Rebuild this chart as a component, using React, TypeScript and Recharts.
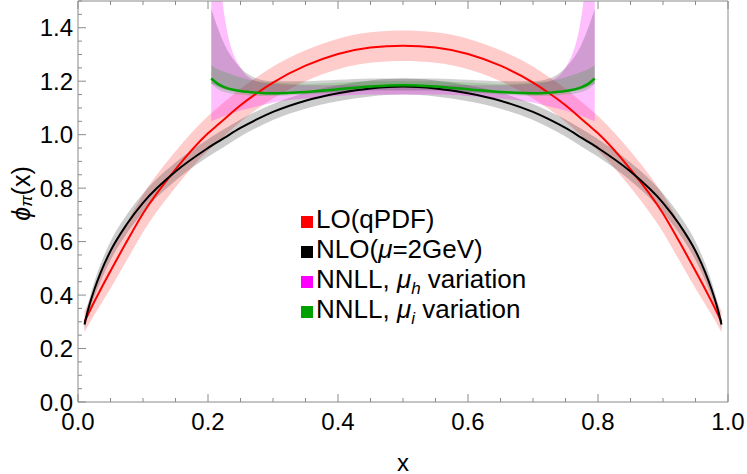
import { Area, ComposedChart, Label, Line, XAxis, YAxis } from "recharts";

const FONT = "'Liberation Sans', Arial, sans-serif";
const FRAME = "#8a8a8a";

// x grid for the full-range curves
const xs = [0.01, 0.015, 0.025, 0.035, 0.05, 0.075, 0.1, 0.15, 0.2, 0.205, 0.215, 0.225, 0.25, 0.275, 0.3, 0.35, 0.4, 0.45, 0.5, 0.55, 0.6, 0.65, 0.7, 0.725, 0.75, 0.775, 0.785, 0.795, 0.8, 0.85, 0.9, 0.925, 0.95, 0.965, 0.975, 0.985, 0.99];

// LO(qPDF)
const lo = [0.3, 0.325, 0.375, 0.422, 0.49, 0.6, 0.705, 0.87, 1.005, 1.016, 1.037, 1.058, 1.11, 1.155, 1.195, 1.258, 1.302, 1.326, 1.333, 1.326, 1.302, 1.258, 1.195, 1.155, 1.11, 1.058, 1.037, 1.016, 1.005, 0.87, 0.705, 0.6, 0.49, 0.422, 0.375, 0.325, 0.3];
const loLow = [0.26, 0.283, 0.325, 0.365, 0.425, 0.53, 0.635, 0.802, 0.94, 0.951, 0.972, 0.994, 1.048, 1.095, 1.135, 1.2, 1.245, 1.269, 1.276, 1.269, 1.245, 1.2, 1.135, 1.095, 1.048, 0.994, 0.972, 0.951, 0.94, 0.802, 0.635, 0.53, 0.425, 0.365, 0.325, 0.283, 0.26];
const loHigh = [0.34, 0.367, 0.425, 0.479, 0.555, 0.67, 0.775, 0.938, 1.07, 1.081, 1.102, 1.122, 1.172, 1.215, 1.255, 1.316, 1.359, 1.383, 1.39, 1.383, 1.359, 1.316, 1.255, 1.215, 1.172, 1.122, 1.102, 1.081, 1.07, 0.938, 0.775, 0.67, 0.555, 0.479, 0.425, 0.367, 0.34];

// NLO(mu=2GeV)
const nlo = [0.29, 0.34, 0.42, 0.485, 0.565, 0.665, 0.745, 0.862, 0.95, 0.958, 0.973, 0.988, 1.025, 1.057, 1.085, 1.127, 1.155, 1.173, 1.18, 1.173, 1.155, 1.127, 1.085, 1.057, 1.025, 0.988, 0.973, 0.958, 0.95, 0.862, 0.745, 0.665, 0.565, 0.485, 0.42, 0.34, 0.29];
const nloLow = [0.27, 0.318, 0.392, 0.453, 0.53, 0.63, 0.71, 0.828, 0.917, 0.925, 0.94, 0.955, 0.993, 1.026, 1.055, 1.097, 1.125, 1.143, 1.15, 1.143, 1.125, 1.097, 1.055, 1.026, 0.993, 0.955, 0.94, 0.925, 0.917, 0.828, 0.71, 0.63, 0.53, 0.453, 0.392, 0.318, 0.27];
const nloHigh = [0.31, 0.362, 0.448, 0.517, 0.6, 0.7, 0.78, 0.896, 0.983, 0.991, 1.006, 1.021, 1.057, 1.088, 1.115, 1.157, 1.185, 1.203, 1.21, 1.203, 1.185, 1.157, 1.115, 1.088, 1.057, 1.021, 1.006, 0.991, 0.983, 0.896, 0.78, 0.7, 0.6, 0.517, 0.448, 0.362, 0.31];

// NNLL curves only live on 0.2 < x < 0.8
const nnllXs = [0.205, 0.215, 0.225, 0.25, 0.275, 0.3, 0.35, 0.4, 0.45, 0.5, 0.55, 0.6, 0.65, 0.7, 0.725, 0.75, 0.775, 0.785, 0.795];
const muI = [1.21, 1.19, 1.178, 1.163, 1.157, 1.155, 1.16, 1.17, 1.18, 1.185, 1.18, 1.17, 1.16, 1.155, 1.157, 1.163, 1.178, 1.19, 1.21];
const muILow = [1.19, 1.17, 1.16, 1.15, 1.145, 1.145, 1.15, 1.16, 1.17, 1.175, 1.17, 1.16, 1.15, 1.145, 1.145, 1.15, 1.16, 1.17, 1.19];
const muIHigh = [1.26, 1.245, 1.235, 1.215, 1.2, 1.195, 1.19, 1.195, 1.2, 1.2, 1.2, 1.195, 1.19, 1.195, 1.2, 1.215, 1.235, 1.245, 1.26];
const muHLow = [1.05, 1.06, 1.07, 1.09, 1.105, 1.12, 1.135, 1.145, 1.15, 1.15, 1.15, 1.145, 1.135, 1.12, 1.105, 1.09, 1.07, 1.06, 1.05];
const muHHigh = [2.4, 1.75, 1.45, 1.25, 1.2, 1.19, 1.185, 1.185, 1.185, 1.185, 1.185, 1.185, 1.185, 1.19, 1.2, 1.25, 1.45, 1.75, 2.4];
const combLow = [1.19, 1.18, 1.17, 1.16, 1.155, 1.15, 1.155, 1.16, 1.165, 1.165, 1.165, 1.16, 1.155, 1.15, 1.155, 1.16, 1.17, 1.18, 1.19];
const combHigh = [1.47, 1.4, 1.34, 1.25, 1.21, 1.2, 1.2, 1.205, 1.21, 1.21, 1.21, 1.205, 1.2, 1.2, 1.21, 1.25, 1.34, 1.4, 1.47];

const xTicks = [0, 0.05, 0.1, 0.15, 0.2, 0.25, 0.3, 0.35, 0.4, 0.45, 0.5, 0.55, 0.6, 0.65, 0.7, 0.75, 0.8, 0.85, 0.9, 0.95, 1];
const xMajor = [0, 0.2, 0.4, 0.6, 0.8, 1];
const yTicks = [0, 0.05, 0.1, 0.15, 0.2, 0.25, 0.3, 0.35, 0.4, 0.45, 0.5, 0.55, 0.6, 0.65, 0.7, 0.75, 0.8, 0.85, 0.9, 0.95, 1, 1.05, 1.1, 1.15, 1.2, 1.25, 1.3, 1.35, 1.4, 1.45, 1.5];
const yMajor = [0, 0.2, 0.4, 0.6, 0.8, 1, 1.2, 1.4];

const data = xs.map((x, i) => {
  const j = nnllXs.indexOf(x);
  const has = j >= 0;
  return {
    x,
    lo: lo[i],
    loBand: [loLow[i], loHigh[i]],
    nlo: nlo[i],
    nloBand: [nloLow[i], nloHigh[i]],
    muI: has ? muI[j] : null,
    muIBand: has ? [muILow[j], muIHigh[j]] : null,
    muHBand: has ? [muHLow[j], muHHigh[j]] : null,
    combBand: has ? [combLow[j], combHigh[j]] : null,
  };
});

const MAJOR_LEN = 8;
const MINOR_LEN = 4;

function BottomTick({ x, y, payload }: any) {
  const major = xMajor.includes(payload.value);
  return (
    <g>
      <line x1={x} x2={x} y1={y} y2={y - (major ? MAJOR_LEN : MINOR_LEN)} stroke={FRAME} />
      {major && (
        <text x={x} y={y + 19} textAnchor="middle" dominantBaseline="central" fontSize={24} fontFamily={FONT} fill="#000">
          {payload.value.toFixed(1)}
        </text>
      )}
    </g>
  );
}

function TopTick({ x, y, payload }: any) {
  const major = xMajor.includes(payload.value);
  return <line x1={x} x2={x} y1={y} y2={y + (major ? MAJOR_LEN : MINOR_LEN)} stroke={FRAME} />;
}

function LeftTick({ x, y, payload }: any) {
  const major = yMajor.includes(payload.value);
  return (
    <g>
      <line x1={x} x2={x + (major ? MAJOR_LEN : MINOR_LEN)} y1={y} y2={y} stroke={FRAME} />
      {major && (
        <text x={x - 5} y={y} textAnchor="end" dominantBaseline="central" fontSize={24} fontFamily={FONT} fill="#000">
          {payload.value.toFixed(1)}
        </text>
      )}
    </g>
  );
}

function RightTick({ x, y, payload }: any) {
  const major = yMajor.includes(payload.value);
  return <line x1={x} x2={x - (major ? MAJOR_LEN : MINOR_LEN)} y1={y} y2={y} stroke={FRAME} />;
}

const XTitle = ({ viewBox }: any) => (
  <text x={viewBox.x + viewBox.width / 2} y={viewBox.y + 60} textAnchor="middle" dominantBaseline="central" fontSize={24} fontFamily={FONT}>
    x
  </text>
);

const YTitle = ({ viewBox }: any) => {
  const cx = 21;
  const cy = viewBox.y + viewBox.height / 2 - 8;
  return (
    <text transform={`rotate(-90, ${cx}, ${cy})`} x={cx} y={cy} textAnchor="middle" dominantBaseline="central" fontSize={25} fontFamily={FONT}>
      <tspan fontStyle="italic">ϕ</tspan>
      <tspan fontStyle="italic" fontSize={17} dy={5}>π</tspan>
      <tspan dy={-5}>(x)</tspan>
    </text>
  );
};

const legendItems = [
  { color: "#ff0000", label: <>LO(qPDF)</> },
  { color: "#000000", label: <>NLO(<i>μ</i>=2GeV)</> },
  { color: "#ff00ff", label: <>NNLL, <i>μ</i><sub style={{ fontSize: 17, lineHeight: 0 }}><i>h</i></sub> variation</> },
  { color: "#00a000", label: <>NNLL, <i>μ</i><sub style={{ fontSize: 17, lineHeight: 0 }}><i>i</i></sub> variation</> },
];

export default function App() {
  return (
    <div style={{ position: "absolute", left: 0, top: 0, width: 747, height: 474, background: "#fff" }}>
      <ComposedChart width={747} height={474} data={data} margin={{ top: 0, right: 0, bottom: 0, left: 0 }}>
        <XAxis
          dataKey="x"
          type="number"
          domain={[0, 1]}
          ticks={xTicks}
          interval={0}
          allowDataOverflow
          height={72}
          stroke={FRAME}
          tickLine={false}
          tickSize={0}
          tickMargin={0}
          tick={<BottomTick />}
        >
          <Label content={<XTitle />} />
        </XAxis>
        <XAxis
          xAxisId="top"
          orientation="top"
          dataKey="x"
          type="number"
          domain={[0, 1]}
          ticks={xTicks}
          interval={0}
          height={1}
          stroke={FRAME}
          tickLine={false}
          tickSize={0}
          tickMargin={0}
          tick={<TopTick />}
        />
        <YAxis
          type="number"
          domain={[0, 1.5]}
          ticks={yTicks}
          interval={0}
          allowDataOverflow
          width={78}
          stroke={FRAME}
          tickLine={false}
          tickSize={0}
          tickMargin={0}
          tick={<LeftTick />}
        >
          <Label content={<YTitle />} />
        </YAxis>
        <YAxis
          yAxisId="right"
          orientation="right"
          type="number"
          domain={[0, 1.5]}
          ticks={yTicks}
          interval={0}
          width={19}
          stroke={FRAME}
          tickLine={false}
          tickSize={0}
          tickMargin={0}
          tick={<RightTick />}
        />

        <Area type="monotone" dataKey="loBand" stroke="none" fill="#ff0000" fillOpacity={0.2} dot={false} activeDot={false} isAnimationActive={false} />
        <Line type="monotone" dataKey="lo" stroke="#ff0000" strokeWidth={2} dot={false} activeDot={false} isAnimationActive={false} />
        <Area type="monotone" dataKey="nloBand" stroke="none" fill="#000000" fillOpacity={0.2} dot={false} activeDot={false} isAnimationActive={false} />
        <Line type="monotone" dataKey="nlo" stroke="#000000" strokeWidth={2} dot={false} activeDot={false} isAnimationActive={false} />
        <Area type="monotone" dataKey="muHBand" stroke="none" fill="#ff00ff" fillOpacity={0.25} dot={false} activeDot={false} isAnimationActive={false} />
        <Area type="monotone" dataKey="combBand" stroke="none" fill="#000000" fillOpacity={0.18} dot={false} activeDot={false} isAnimationActive={false} />
        <Area type="monotone" dataKey="muIBand" stroke="none" fill="#00a000" fillOpacity={0.2} dot={false} activeDot={false} isAnimationActive={false} />
        <Line type="monotone" dataKey="muI" stroke="#00a000" strokeWidth={2.5} dot={false} activeDot={false} isAnimationActive={false} />
      </ComposedChart>

      <div style={{ position: "absolute", left: 301, top: 204, fontFamily: FONT, fontSize: 26, color: "#000" }}>
        {legendItems.map((it, i) => (
          <div key={i} style={{ height: 30, lineHeight: "30px", whiteSpace: "nowrap" }}>
            <span style={{ display: "inline-block", width: 12, height: 12, background: it.color, marginRight: 3 }} />
            {it.label}
          </div>
        ))}
      </div>
    </div>
  );
}
